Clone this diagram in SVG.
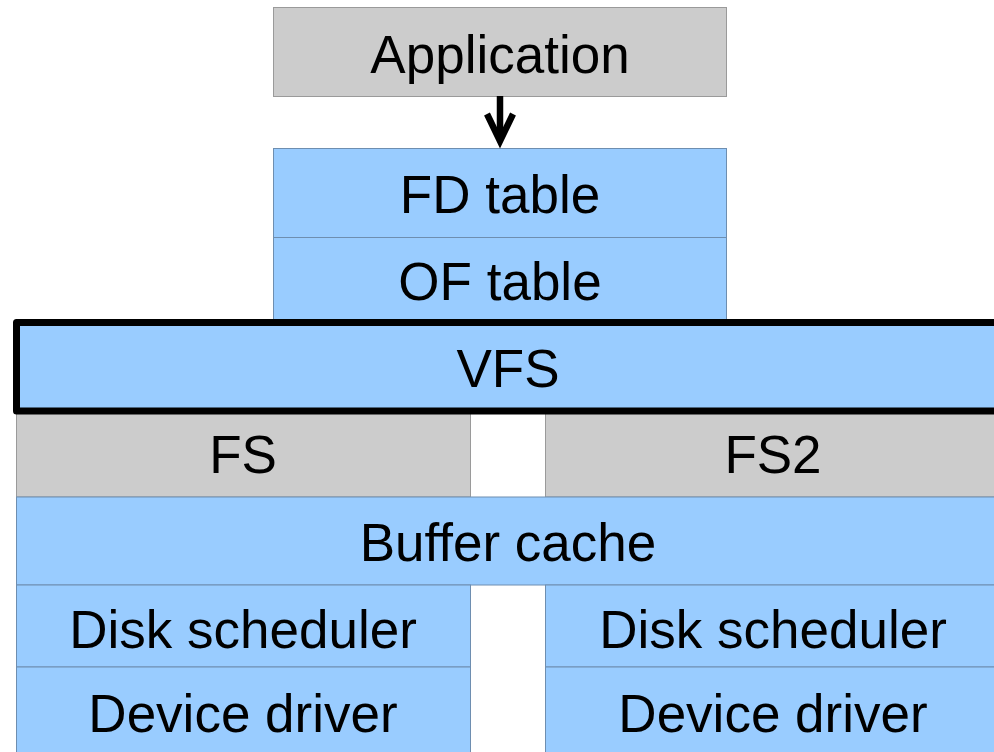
<svg xmlns="http://www.w3.org/2000/svg" width="994" height="752" viewBox="0 0 994 752">
<style>
.g{fill:#cccccc;stroke:#9a9a9a;stroke-width:1}
.b{fill:#99ccff;stroke:#6e8eb0;stroke-width:1}
.v{fill:#99ccff;stroke:#000;stroke-width:7;stroke-linejoin:round}
text{font-family:"Liberation Sans",Arial,sans-serif;font-size:53px;fill:#000;text-anchor:middle}
</style>
<rect width="994" height="752" fill="#fff"/>
<g id="application"><rect class="g" x="273.5" y="7.5" width="453" height="89"/><text x="500" y="73">Application</text></g>
<g id="fd-table"><rect class="b" x="273.5" y="148.5" width="453" height="89"/><text x="500" y="213">FD table</text></g>
<g id="of-table"><rect class="b" x="273.5" y="237.5" width="453" height="88"/><text x="500" y="300">OF table</text></g>
<g id="fs"><rect class="g" x="16.5" y="411" width="454" height="86"/><text x="243" y="473">FS</text></g>
<g id="fs2"><rect class="g" x="545.5" y="411" width="455" height="86"/><text x="773" y="473">FS2</text></g>
<g id="vfs"><rect class="v" x="16.5" y="322.5" width="990" height="88.5"/><text x="508" y="387">VFS</text></g>
<g id="buffer-cache"><rect class="b" x="16.5" y="497" width="984" height="88"/><text x="508" y="561">Buffer cache</text></g>
<g id="disk-scheduler-1"><rect class="b" x="16.5" y="585" width="454" height="82"/><text x="243" y="648">Disk scheduler</text></g>
<g id="disk-scheduler-2"><rect class="b" x="545.5" y="585" width="455" height="82"/><text x="773" y="648">Disk scheduler</text></g>
<g id="device-driver-1"><rect class="b" x="16.5" y="667" width="454" height="90"/><text x="243" y="732">Device driver</text></g>
<g id="device-driver-2"><rect class="b" x="545.5" y="667" width="455" height="90"/><text x="773" y="732">Device driver</text></g>
<g id="connectors" fill="none" stroke="#000" stroke-width="6.5">
<line x1="500" y1="96" x2="500" y2="138"/>
<polyline points="487,114 500,141 513,114" stroke-linejoin="miter" stroke-miterlimit="10"/>
</g>
</svg>
